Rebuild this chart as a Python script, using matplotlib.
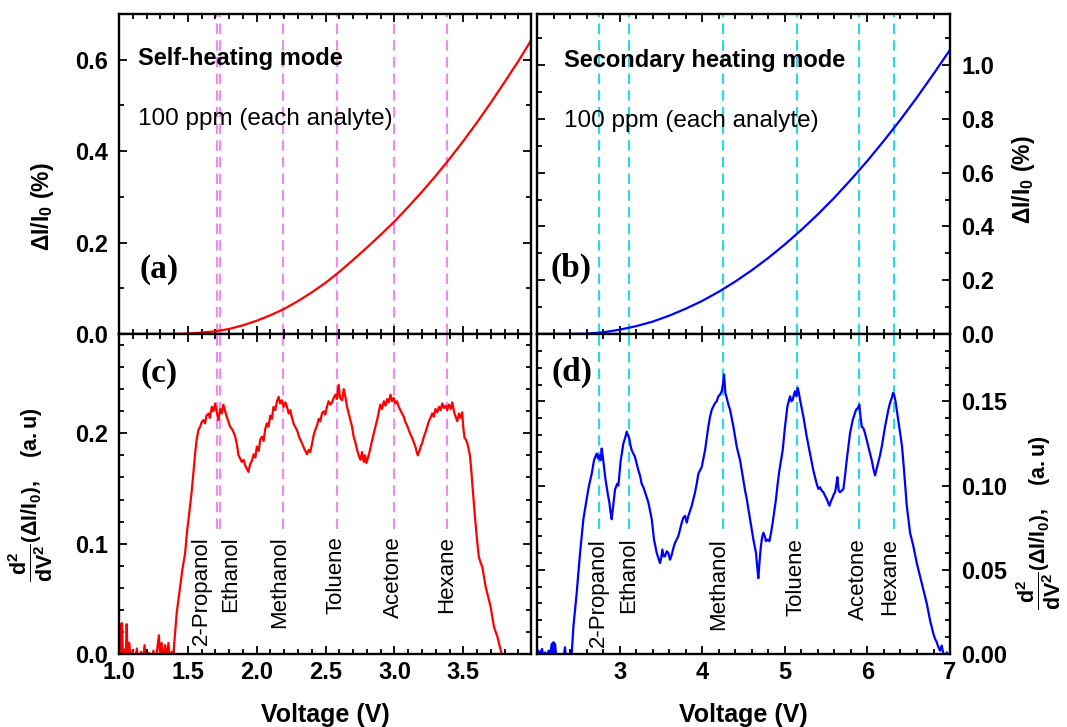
import matplotlib
matplotlib.use("Agg")
import matplotlib.pyplot as plt
from matplotlib.ticker import MultipleLocator, FixedLocator, FormatStrFormatter

# --- Data ---
analytes = ["2-Propanol", "Ethanol", "Methanol", "Toluene", "Acetone", "Hexane"]

# self-heating mode (left), voltage positions of the analyte peaks
self_peaks = [1.71, 1.735, 2.19, 2.58, 2.995, 3.38]
# secondary heating mode (right)
sec_peaks = [2.755, 3.117, 4.248, 5.144, 5.90, 6.32]

# (a) dI/I0 (%) vs voltage, self-heating
v_a = [1.0, 1.1, 1.2, 1.3, 1.4, 1.5, 1.6, 1.7, 1.8, 1.9, 2.0, 2.1, 2.2, 2.3, 2.4,
       2.5, 2.6, 2.7, 2.8, 2.9, 3.0, 3.1, 3.2, 3.3, 3.4, 3.5, 3.6, 3.7, 3.8, 3.9, 4.0]
i_a = [0.0, 0.0, 0.0, 0.0, 0.0, 0.001, 0.003, 0.006, 0.011, 0.019, 0.029, 0.041,
       0.055, 0.072, 0.091, 0.112, 0.136, 0.162, 0.189, 0.217, 0.246, 0.278, 0.311,
       0.346, 0.383, 0.422, 0.463, 0.506, 0.551, 0.597, 0.646]

# (b) dI/I0 (%) vs voltage, secondary heating
v_b = [2.0, 2.2, 2.4, 2.6, 2.8, 3.0, 3.2, 3.4, 3.6, 3.8, 4.0, 4.2, 4.4, 4.6, 4.8,
       5.0, 5.2, 5.4, 5.6, 5.8, 6.0, 6.2, 6.4, 6.6, 6.8, 7.0]
i_b = [0.0, 0.0, 0.0, 0.001, 0.006, 0.016, 0.029, 0.046, 0.068, 0.094, 0.123,
       0.157, 0.195, 0.237, 0.283, 0.333, 0.387, 0.445, 0.507, 0.574, 0.644,
       0.719, 0.797, 0.880, 0.967, 1.057]

# (c) second derivative, self-heating
v_c = [1.000, 1.008, 1.014, 1.022, 1.030, 1.040, 1.048, 1.056, 1.064, 1.075, 1.085,
       1.100, 1.110, 1.130, 1.140, 1.160, 1.170, 1.186, 1.195, 1.220, 1.230, 1.250,
       1.265, 1.290, 1.298, 1.310, 1.320, 1.335, 1.345, 1.359, 1.370, 1.385, 1.395,
       1.419, 1.444, 1.462, 1.480, 1.495, 1.504, 1.516, 1.526, 1.536, 1.553, 1.565,
       1.577, 1.590, 1.600, 1.613, 1.625, 1.635, 1.650, 1.660, 1.674, 1.686, 1.698,
       1.710, 1.722, 1.735, 1.747, 1.758, 1.771, 1.785, 1.807, 1.825, 1.844, 1.856,
       1.868, 1.880, 1.892, 1.904, 1.916, 1.928, 1.940, 1.952, 1.965, 1.978, 1.990,
       2.001, 2.015, 2.025, 2.038, 2.050, 2.062, 2.074, 2.086, 2.098, 2.110, 2.122,
       2.135, 2.147, 2.159, 2.170, 2.183, 2.195, 2.208, 2.220, 2.232, 2.244, 2.256,
       2.270, 2.292, 2.310, 2.329, 2.345, 2.365, 2.377, 2.389, 2.401, 2.413, 2.425,
       2.438, 2.450, 2.462, 2.474, 2.486, 2.498, 2.510, 2.522, 2.535, 2.547, 2.559,
       2.571, 2.583, 2.595, 2.605, 2.620, 2.632, 2.644, 2.656, 2.668, 2.680, 2.692,
       2.704, 2.716, 2.729, 2.741, 2.753, 2.765, 2.777, 2.787, 2.796, 2.808, 2.821,
       2.835, 2.850, 2.862, 2.874, 2.886, 2.898, 2.910, 2.923, 2.935, 2.947, 2.959,
       2.971, 2.983, 2.995, 3.007, 3.019, 3.031, 3.043, 3.055, 3.068, 3.080, 3.092,
       3.104, 3.116, 3.128, 3.140, 3.152, 3.164, 3.170, 3.182, 3.191, 3.201, 3.214,
       3.226, 3.238, 3.250, 3.262, 3.274, 3.286, 3.298, 3.311, 3.323, 3.335, 3.347,
       3.359, 3.371, 3.383, 3.395, 3.408, 3.420, 3.432, 3.444, 3.456, 3.468, 3.480,
       3.492, 3.500, 3.509, 3.520, 3.529, 3.540, 3.548, 3.557, 3.565, 3.577, 3.589,
       3.600, 3.613, 3.625, 3.638, 3.650, 3.662, 3.680, 3.698, 3.710, 3.722, 3.735,
       3.747, 3.760, 3.771, 3.790, 3.850]
d_c = [0.000, 0.027, -0.010, 0.028, -0.005, 0.004, -0.010, 0.027, -0.008, 0.010, -0.006,
       0.003, -0.010, 0.005, -0.008, 0.002, -0.010, 0.008, -0.006, 0.001, -0.010, 0.003,
       -0.008, 0.017, 0.000, 0.010, -0.008, 0.008, -0.005, 0.010, -0.006, 0.002, 0.000,
       0.037, 0.061, 0.078, 0.091, 0.112, 0.121, 0.134, 0.145, 0.158, 0.182, 0.195,
       0.203, 0.206, 0.210, 0.212, 0.209, 0.216, 0.218, 0.214, 0.224, 0.220, 0.227,
       0.219, 0.212, 0.222, 0.218, 0.226, 0.220, 0.214, 0.206, 0.203, 0.197, 0.190,
       0.180, 0.177, 0.174, 0.176, 0.171, 0.168, 0.165, 0.172, 0.175, 0.181, 0.178,
       0.188, 0.184, 0.194, 0.197, 0.193, 0.204, 0.209, 0.206, 0.216, 0.213, 0.224,
       0.221, 0.229, 0.233, 0.227, 0.230, 0.224, 0.228, 0.224, 0.218, 0.221, 0.214,
       0.208, 0.203, 0.196, 0.191, 0.186, 0.181, 0.185, 0.183, 0.190, 0.198, 0.203,
       0.207, 0.213, 0.211, 0.218, 0.220, 0.217, 0.224, 0.229, 0.226, 0.228, 0.232,
       0.235, 0.231, 0.244, 0.232, 0.230, 0.240, 0.233, 0.224, 0.218, 0.212, 0.206,
       0.197, 0.192, 0.185, 0.180, 0.176, 0.183, 0.174, 0.180, 0.173, 0.178, 0.184,
       0.192, 0.200, 0.206, 0.212, 0.219, 0.226, 0.222, 0.229, 0.225, 0.231, 0.228,
       0.235, 0.229, 0.232, 0.227, 0.229, 0.224, 0.221, 0.218, 0.215, 0.210, 0.207,
       0.203, 0.199, 0.196, 0.192, 0.188, 0.182, 0.180, 0.184, 0.188, 0.191, 0.197,
       0.201, 0.206, 0.211, 0.214, 0.218, 0.215, 0.222, 0.219, 0.224, 0.221, 0.227,
       0.223, 0.225, 0.221, 0.226, 0.222, 0.228, 0.220, 0.215, 0.211, 0.218, 0.214,
       0.219, 0.205, 0.196, 0.194, 0.191, 0.185, 0.180, 0.168, 0.155, 0.136, 0.118,
       0.103, 0.088, 0.083, 0.079, 0.070, 0.061, 0.052, 0.043, 0.034, 0.025, 0.020,
       0.016, 0.009, 0.004, -0.006, -0.020]

# (d) second derivative, secondary heating
v_d = [2.000, 2.016, 2.040, 2.060, 2.080, 2.100, 2.120, 2.140, 2.160, 2.178, 2.190,
       2.200, 2.210, 2.218, 2.230, 2.260, 2.300, 2.320, 2.339, 2.350, 2.380, 2.400,
       2.420, 2.440, 2.460, 2.480, 2.500, 2.521, 2.541, 2.561, 2.581, 2.602, 2.618,
       2.634, 2.648, 2.662, 2.676, 2.690, 2.705, 2.723, 2.740, 2.755, 2.770, 2.783,
       2.797, 2.811, 2.828, 2.844, 2.860, 2.876, 2.890, 2.904, 2.918, 2.932, 2.945,
       2.956, 2.970, 2.985, 3.000, 3.013, 3.030, 3.045, 3.065, 3.086, 3.100, 3.117,
       3.131, 3.146, 3.166, 3.186, 3.206, 3.227, 3.247, 3.267, 3.288, 3.308, 3.328,
       3.348, 3.368, 3.389, 3.402, 3.416, 3.432, 3.449, 3.469, 3.489, 3.503, 3.517,
       3.533, 3.550, 3.570, 3.590, 3.610, 3.631, 3.651, 3.671, 3.691, 3.711, 3.731,
       3.752, 3.772, 3.792, 3.812, 3.832, 3.852, 3.873, 3.893, 3.913, 3.933, 3.953,
       3.974, 3.994, 4.014, 4.034, 4.054, 4.074, 4.095, 4.115, 4.135, 4.155, 4.175,
       4.195, 4.215, 4.236, 4.250, 4.264, 4.280, 4.297, 4.317, 4.337, 4.357, 4.377,
       4.398, 4.418, 4.438, 4.458, 4.478, 4.498, 4.519, 4.539, 4.559, 4.579, 4.599,
       4.619, 4.635, 4.651, 4.665, 4.679, 4.694, 4.708, 4.724, 4.740, 4.756, 4.772,
       4.792, 4.813, 4.833, 4.853, 4.873, 4.893, 4.913, 4.934, 4.954, 4.974, 4.988,
       5.002, 5.017, 5.031, 5.047, 5.063, 5.080, 5.096, 5.110, 5.123, 5.140, 5.156,
       5.170, 5.184, 5.204, 5.224, 5.245, 5.265, 5.285, 5.305, 5.325, 5.345, 5.366,
       5.386, 5.406, 5.426, 5.446, 5.466, 5.487, 5.507, 5.523, 5.539, 5.560, 5.580,
       5.594, 5.608, 5.622, 5.636, 5.652, 5.668, 5.689, 5.709, 5.729, 5.749, 5.769,
       5.789, 5.806, 5.822, 5.842, 5.862, 5.882, 5.902, 5.916, 5.931, 5.951, 5.971,
       5.991, 6.011, 6.031, 6.052, 6.072, 6.092, 6.112, 6.132, 6.152, 6.173, 6.193,
       6.213, 6.233, 6.253, 6.273, 6.294, 6.310, 6.322, 6.340, 6.355, 6.370, 6.386,
       6.402, 6.419, 6.431, 6.443, 6.460, 6.476, 6.496, 6.516, 6.536, 6.556, 6.577,
       6.597, 6.617, 6.637, 6.657, 6.677, 6.697, 6.718, 6.738, 6.758, 6.778, 6.798,
       6.818, 6.839, 6.859, 6.879, 6.899, 6.919, 6.940, 6.960, 6.980, 7.000]
d_d = [0.000, 0.002, 0.000, 0.003, -0.002, 0.001, -0.003, 0.002, 0.000, 0.006, 0.001,
       0.007, -0.001, 0.006, 0.000, -0.003, -0.004, -0.002, 0.004, -0.002, -0.004, -0.002,
       0.000, 0.016, 0.026, 0.036, 0.048, 0.060, 0.070, 0.080, 0.086, 0.092, 0.097,
       0.101, 0.104, 0.107, 0.111, 0.115, 0.117, 0.119, 0.116, 0.118, 0.115, 0.122,
       0.117, 0.111, 0.104, 0.099, 0.094, 0.090, 0.084, 0.080, 0.086, 0.092, 0.098,
       0.099, 0.101, 0.100, 0.108, 0.115, 0.120, 0.125, 0.128, 0.132, 0.130, 0.128,
       0.124, 0.121, 0.119, 0.117, 0.113, 0.109, 0.106, 0.101, 0.099, 0.096, 0.093,
       0.090, 0.085, 0.080, 0.074, 0.068, 0.064, 0.060, 0.057, 0.054, 0.057, 0.062,
       0.058, 0.058, 0.061, 0.060, 0.056, 0.059, 0.063, 0.066, 0.068, 0.070, 0.074,
       0.078, 0.081, 0.082, 0.078, 0.082, 0.085, 0.088, 0.092, 0.096, 0.101, 0.107,
       0.109, 0.111, 0.116, 0.121, 0.128, 0.135, 0.141, 0.145, 0.147, 0.149, 0.150,
       0.153, 0.154, 0.156, 0.160, 0.166, 0.155, 0.152, 0.148, 0.145, 0.140, 0.135,
       0.129, 0.123, 0.119, 0.115, 0.109, 0.103, 0.097, 0.092, 0.086, 0.080, 0.074,
       0.068, 0.064, 0.060, 0.052, 0.045, 0.055, 0.063, 0.069, 0.072, 0.070, 0.067,
       0.068, 0.067, 0.072, 0.078, 0.085, 0.092, 0.101, 0.109, 0.115, 0.121, 0.128,
       0.135, 0.141, 0.147, 0.150, 0.153, 0.150, 0.151, 0.154, 0.156, 0.153, 0.158,
       0.155, 0.151, 0.146, 0.141, 0.135, 0.129, 0.124, 0.119, 0.114, 0.109, 0.105,
       0.101, 0.098, 0.099, 0.097, 0.096, 0.094, 0.092, 0.090, 0.088, 0.091, 0.093,
       0.095, 0.096, 0.100, 0.105, 0.097, 0.096, 0.097, 0.098, 0.106, 0.115, 0.123,
       0.131, 0.135, 0.139, 0.142, 0.145, 0.146, 0.148, 0.141, 0.135, 0.134, 0.131,
       0.127, 0.123, 0.119, 0.115, 0.110, 0.106, 0.110, 0.114, 0.118, 0.123, 0.129,
       0.135, 0.140, 0.145, 0.149, 0.152, 0.155, 0.154, 0.150, 0.145, 0.140, 0.135,
       0.129, 0.123, 0.116, 0.109, 0.098, 0.088, 0.080, 0.072, 0.068, 0.064, 0.059,
       0.054, 0.050, 0.046, 0.042, 0.038, 0.034, 0.030, 0.025, 0.020, 0.016, 0.012,
       0.009, 0.007, 0.004, 0.002, 0.005, 0.000, -0.003, 0.001, -0.004, -0.002]

# --- Style ---
plt.rcParams.update({
    "font.family": "Liberation Sans",
    "font.weight": "bold",
    "mathtext.fontset": "custom",
    "mathtext.rm": "Liberation Sans:bold",
    "mathtext.it": "Liberation Sans:italic:bold",
    "mathtext.bf": "Liberation Sans:bold",
    "mathtext.default": "bf",
    "axes.linewidth": 1.7,
    "xtick.direction": "in",
    "ytick.direction": "in",
})

RED = "#ff0000"
BLUE = "#0000ff"
VIOLET = "#f08af0"
CYAN = "#22dde8"
TICK_FS = 17
fig = plt.figure(figsize=(10.67, 7.27), dpi=100)

ax_a = fig.add_axes([0.1115, 0.5406, 0.3866, 0.4402])
ax_c = fig.add_axes([0.1115, 0.1004, 0.3866, 0.4402])
ax_b = fig.add_axes([0.5033, 0.5406, 0.3871, 0.4402])
ax_d = fig.add_axes([0.5033, 0.1004, 0.3871, 0.4402])


def style(ax, right=False, bottom=False):
    ax.tick_params(which="both", top=True, bottom=True, left=True, right=True,
                   width=1.3, labelsize=TICK_FS)
    ax.tick_params(axis="y", pad=8)
    ax.tick_params(axis="x", pad=5)
    ax.tick_params(which="major", length=6)
    ax.tick_params(which="minor", length=3.5)
    ax.tick_params(labelbottom=bottom, labelleft=not right, labelright=right)
    for lab in ax.get_xticklabels() + ax.get_yticklabels():
        lab.set_fontweight("bold")


# (a)
ax_a.plot(v_a, i_a, color=RED, lw=1.6)
ax_a.set_xlim(1.0, 3.995)
ax_a.set_ylim(0, 0.7)
ax_a.xaxis.set_major_locator(MultipleLocator(0.5))
ax_a.xaxis.set_minor_locator(MultipleLocator(0.1))
ax_a.yaxis.set_major_locator(MultipleLocator(0.2))
ax_a.yaxis.set_minor_locator(MultipleLocator(0.1))
ax_a.yaxis.set_major_formatter(FormatStrFormatter("%.1f"))
style(ax_a)

# (c)
ax_c.plot(v_c, d_c, color=RED, lw=1.6)
ax_c.set_xlim(1.0, 3.995)
ax_c.set_ylim(0, 0.29)
ax_c.xaxis.set_major_locator(MultipleLocator(0.5))
ax_c.xaxis.set_minor_locator(MultipleLocator(0.1))
ax_c.xaxis.set_major_formatter(FormatStrFormatter("%.1f"))
ax_c.yaxis.set_major_locator(MultipleLocator(0.1))
ax_c.yaxis.set_minor_locator(MultipleLocator(0.02))
ax_c.yaxis.set_major_formatter(FormatStrFormatter("%.1f"))
style(ax_c, bottom=True)

# (b)
ax_b.plot(v_b, i_b, color=BLUE, lw=1.6)
ax_b.set_xlim(2.0, 7.0)
ax_b.set_ylim(0, 1.19)
ax_b.xaxis.set_major_locator(FixedLocator([3, 4, 5, 6, 7]))
ax_b.xaxis.set_minor_locator(MultipleLocator(0.2))
ax_b.yaxis.set_major_locator(MultipleLocator(0.2))
ax_b.yaxis.set_minor_locator(MultipleLocator(0.1))
ax_b.yaxis.set_major_formatter(FormatStrFormatter("%.1f"))
style(ax_b, right=True)

# (d)
ax_d.plot(v_d, d_d, color=BLUE, lw=1.6)
ax_d.set_xlim(2.0, 7.0)
ax_d.set_ylim(0, 0.19)
ax_d.xaxis.set_major_locator(FixedLocator([3, 4, 5, 6, 7]))
ax_d.xaxis.set_minor_locator(MultipleLocator(0.2))
ax_d.yaxis.set_major_locator(MultipleLocator(0.05))
ax_d.yaxis.set_minor_locator(MultipleLocator(0.01))
ax_d.yaxis.set_major_formatter(FormatStrFormatter("%.2f"))
style(ax_d, right=True, bottom=True)

# analyte marker lines
dash = dict(lw=1.5, dashes=(5, 3), zorder=0)
for p in self_peaks:
    ax_a.axvline(p, color=VIOLET, **dash)
    ax_c.axvline(p, ymin=0.39, color=VIOLET, **dash)
for p in sec_peaks:
    ax_b.axvline(p, color=CYAN, **dash)
    ax_d.axvline(p, ymin=0.39, color=CYAN, **dash)

# analyte names
left_shift = [-0.11, 0.075, -0.027, -0.003, -0.005, 0.0]
right_shift = [-0.013, -0.011, -0.053, -0.008, -0.01, -0.05]
for name, p, s in zip(analytes, self_peaks, left_shift):
    ax_c.text(p + s, 0.107, name, rotation=90, ha="center", va="top",
              fontsize=16, fontweight="normal")
for name, p, s in zip(analytes, sec_peaks, right_shift):
    ax_d.text(p + s, 0.069, name, rotation=90, ha="center", va="top",
              fontsize=16, fontweight="normal")

# annotations
ax_a.text(0.045, 0.84, "Self-heating mode", transform=ax_a.transAxes,
          fontsize=17, fontweight="bold")
ax_a.text(0.045, 0.653, "100 ppm (each analyte)", transform=ax_a.transAxes,
          fontsize=17.5, fontweight="normal")
ax_b.text(0.065, 0.834, "Secondary heating mode", transform=ax_b.transAxes,
          fontsize=17, fontweight="bold")
ax_b.text(0.065, 0.647, "100 ppm (each analyte)", transform=ax_b.transAxes,
          fontsize=17.5, fontweight="normal")

panel = dict(fontsize=24, fontweight="bold", family="Liberation Serif",
             va="center", ha="left")
ax_a.text(0.05, 0.2, "(a)", transform=ax_a.transAxes, **panel)
ax_b.text(0.033, 0.206, "(b)", transform=ax_b.transAxes, **panel)
ax_c.text(0.052, 0.878, "(c)", transform=ax_c.transAxes, **panel)
ax_d.text(0.034, 0.881, "(d)", transform=ax_d.transAxes, **panel)

# axis labels
top_lab = r"$\Delta I/I_0\ (\%)$"
bot_lab = r"$\dfrac{d^2}{dV^2}\left(\Delta I/I_0\right),\ \ \ (a{.}u)$"
ax_a.set_ylabel(top_lab, fontsize=16.5)
ax_a.yaxis.set_label_coords(-0.152, 0.397)
ax_c.set_ylabel(bot_lab, fontsize=15.5)
ax_c.yaxis.set_label_coords(-0.155, 0.497)
ax_b.yaxis.set_label_position("right")
ax_b.set_ylabel(top_lab, fontsize=16.5, rotation=90)
ax_b.yaxis.set_label_coords(1.145, 0.483)
ax_d.yaxis.set_label_position("right")
ax_d.set_ylabel(bot_lab, fontsize=15.5, rotation=90)
ax_d.yaxis.set_label_coords(1.155, 0.41)

for ax in (ax_c, ax_d):
    ax.set_xlabel("Voltage (V)", fontsize=18, fontweight="bold", labelpad=14)

fig.savefig("out.png", dpi=100, facecolor="white")
